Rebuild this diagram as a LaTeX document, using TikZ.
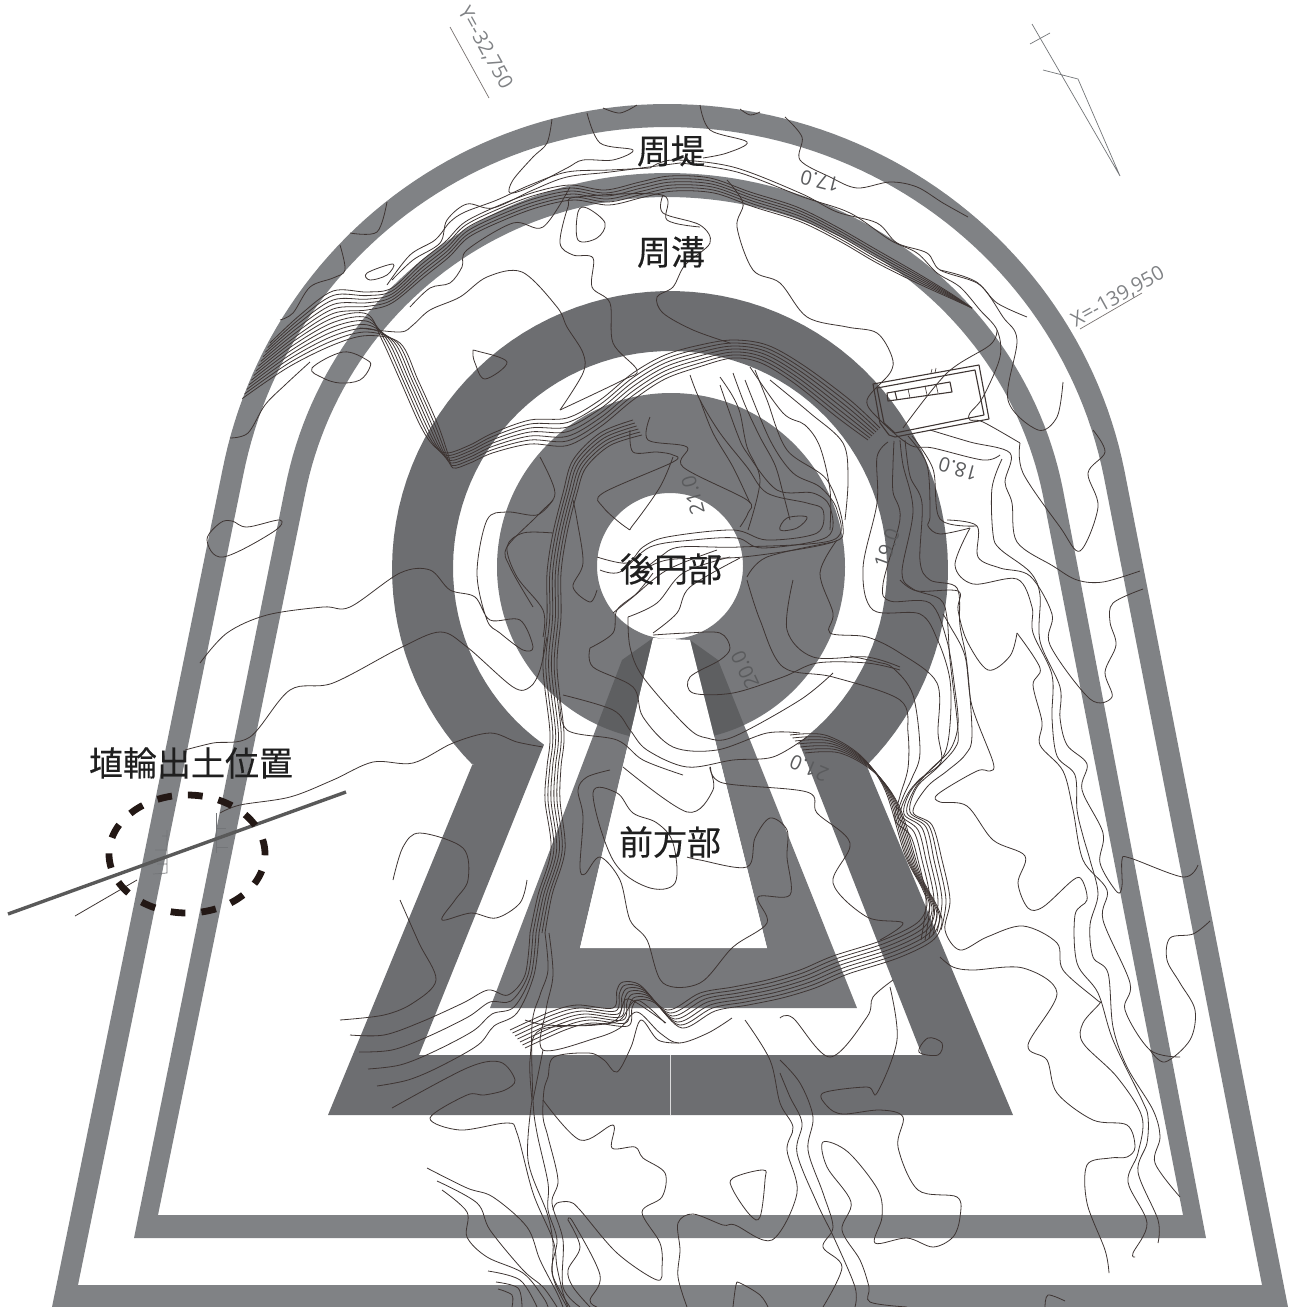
\documentclass[tikz,border=0pt]{standalone}
\usepackage{fontspec}
\setmainfont{Open Sans}
\newfontfamily\cjkf[FakeBold=0.25]{Noto Sans CJK JP}
\definecolor{bandc}{HTML}{808285}
\definecolor{keyc}{HTML}{6D6E71}
\definecolor{discc}{HTML}{77787B}
\definecolor{overc}{HTML}{5E5F61}
\definecolor{conc}{HTML}{3E3533}
\definecolor{labc}{HTML}{808285}
\definecolor{numc}{HTML}{5A5B5D}
\newcommand{\ct}[1]{\draw[contour] plot[smooth,tension=0.55] coordinates {#1};}
\newcommand{\ctc}[1]{\draw[contour] plot[smooth cycle,tension=0.6] coordinates {#1};}
\newcommand{\cfam}[4]{\foreach \i in {0,...,#1}{\begin{scope}[shift={(\i*#2,\i*#3)}]\ct{#4}\end{scope}}}
\tikzset{
 contour/.style={conc,line width=0.4pt,line join=round},
 cjklabel/.style={font=\cjkf\fontsize{17pt}{17pt}\selectfont,text=black!88,inner sep=0pt},
 gridlabel/.style={font=\fontsize{10pt}{10pt}\selectfont,text=labc,inner sep=0pt},
 numlabel/.style={font=\fontsize{10pt}{10pt}\selectfont,text=numc,inner sep=0pt},
 thinmark/.style={draw=labc!90!black,line width=0.35pt},
 structure/.style={draw=conc,line width=0.55pt,line join=round}
}
\begin{document}
\begin{tikzpicture}[x=0.5pt,y=-0.5pt]
\useasboundingbox (0,0) rectangle (1290,1307);
% outer band
\fill[bandc,even odd rule]
 (52,1307) -- plot[domain=169:90,samples=50] ({667+453*cos(\x)},{557-453*sin(\x)})
 -- plot[domain=90:11,samples=50] ({667+466*cos(\x)},{557-453*sin(\x)}) -- (1288,1307) -- cycle
 (78,1285) -- plot[domain=169:90,samples=50] ({667+432*cos(\x)},{559-432*sin(\x)})
 -- plot[domain=90:11,samples=50] ({667+445*cos(\x)},{559-432*sin(\x)}) -- (1262,1285) -- cycle;
% second band
\fill[bandc,even odd rule]
 (134,1238) -- plot[domain=169:90,samples=50] ({667+389*cos(\x)},{562-389*sin(\x)})
 -- plot[domain=90:11,samples=50] ({667+403*cos(\x)},{562-389*sin(\x)}) -- (1206,1238) -- cycle
 (158,1215) -- plot[domain=169:90,samples=50] ({667+369*cos(\x)},{566-369*sin(\x)})
 -- plot[domain=90:11,samples=50] ({667+383*cos(\x)},{566-369*sin(\x)}) -- (1183,1215) -- cycle;
% keyhole ring
\fill[keyc,even odd rule]
 (473,763) -- plot[domain=225:-45,samples=90] ({670+278*cos(\x)},{569-278*sin(\x)}) -- (1013,1115) -- (328,1115) -- cycle
 (543,747) -- plot[domain=234.5:-53.5,samples=90] ({670+217*cos(\x)},{568-217*sin(\x)}) -- (922,1055) -- (419,1055) -- cycle;
\draw[white!75!keyc,line width=0.4pt] (670,1055) -- (670,1115);
% inner disc and trapezoid
\fill[discc,even odd rule] (671,567) circle[radius=87pt] (670,566) circle[radius=36.5pt];
\fill[discc] (653,638) -- (622,660) -- (490,1008) -- (857,1008) -- (718,660) -- (690,640) -- (767,948) -- (580,948) -- cycle;
\begin{scope}
 \clip (671,567) circle[radius=87pt];
 \fill[overc] (653,638) -- (622,660) -- (490,1008) -- (857,1008) -- (718,660) -- (690,640) -- (767,948) -- (580,948) -- cycle;
\end{scope}
\fill[white] (653,638) -- (690,640) -- (767,948) -- (580,948) -- cycle;

% ---------- contours: top arch
\ct{(552,119)(547,143)(533,157)(513,180)(510,193)(530,187)(567,168)(583,160)(613,160)(633,150)(600,143)(587,113)}
\ct{(603,108)(620,113)(637,105)}
\ct{(740,109)(750,115)(760,112)}
\ct{(785,117)(802,137)(800,160)(830,177)(857,188)(890,182)(917,187)(943,203)(968,217)}
\ct{(700,105)(710,130)(747,142)(727,153)(703,158)}
\ct{(387,202)(377,232)(350,233)}
\ct{(340,245)(345,270)(333,278)(310,287)(293,313)(280,320)}
\ctc{(367,273)(393,264)(387,275)(370,280)}
\ctc{(312,368)(343,352)(367,360)(370,367)(360,380)(340,383)(323,378)}
\ct{(700,227)(667,220)(662,195)(577,197)(568,207)(560,243)(573,255)(593,258)(592,287)(610,303)(613,343)(637,370)(623,380)(560,410)}
\ctc{(578,212)(587,208)(605,223)(597,238)(578,240)}
\ct{(570,187)(543,227)(513,223)(467,250)(462,267)(450,283)(430,288)(410,307)}
\ct{(360,328)(400,332)(413,325)(430,310)(460,297)(487,277)(522,272)(557,307)(567,327)(583,353)(583,373)(560,410)}
\ctc{(473,352)(477,351)(507,362)(485,379)(475,363)}
\ct{(650,168)(673,160)(733,167)(800,193)(837,212)(877,223)(897,243)(927,253)(940,270)(977,283)(997,303)(1027,317)}
\ct{(680,163)(737,172)(803,197)(850,213)(890,240)(917,253)(937,273)(960,287)(980,310)(997,330)(1000,357)(983,397)(970,413)(970,420)(983,422)(1020,443)}
\ct{(387,285)(410,255)(435,240)(450,222)(465,212)(497,200)(530,185)(567,172)(610,170)(650,168)}
\ct{(392,280)(413,260)(440,243)(447,220)(467,204)(493,208)(533,190)(567,177)(610,172)(680,163)}
\ct{(230,438)(248,433)(265,405)(285,385)(310,362)}
% left fan, upper group runs on along the second band
\foreach \i in {0,...,5}{
 \ct{(270-\i*2.3,343+\i*4.6)(300-\i*1,315+\i*4.4)(333,291+\i*4.5)(367,292+\i*3.6)(392,288+\i*3)(420+\i*0.8,262+\i*3)(445+\i*0.8,242+\i*3)(465+\i*0.8,222+\i*3)(500+\i*0.8,205+\i*3)(535+\i*0.8,192+\i*3)(570+\i*0.8,185+\i*3)(605+\i*0.8,190+\i*3)(640+\i*0.8,182+\i*3)(670+\i*0.8,176+\i*3)(710+\i*0.8,178+\i*3)(750+\i*0.8,192+\i*3)(797+\i*0.8,207+\i*3)(837+\i*0.8,227+\i*3)(877,250+\i*2.6)(917,273+\i*2)(950,293+\i*1)(972,308)}
}
% left fan, lower group forms the V and the ring arc
\foreach \j in {0,...,6}{
 \ct{(256-\j*2.3,371+\j*4.6)(294-\j*1,341+\j*4.4)(333,318+\j*4.5)(367,314+\j*3.6)(382+\j*3,340+\j*0.5)(400+\j*3,380)(420+\j*3,425)(433+\j*2.5,445+\j*1.5)(447+\j*1,453+\j*2.5)(470,445+\j*3)(493,433+\j*3.3)(530,420+\j*4)(567,418+\j*4.6)(600,400+\j*4.5)(633,373+\j*4.5)(665,355+\j*4)(700,345+\j*3.6)(733,340+\j*3)(767-\j,345+\j*3)(803-\j*1.5,365+\j*3)(850-\j*2,400+\j*3)(880-\j*2,428+\j*2)}
}
\ct{(727,180)(743,203)(737,227)(753,270)(780,283)(807,317)(847,327)(877,333)(892,357)(890,373)(867,400)(880,420)(910,445)(933,448)(983,460)(1000,455)}
\ct{(663,195)(663,213)(700,225)(710,243)(685,265)(673,287)(657,297)(663,313)(693,330)(730,343)}
% rectangle structure
\draw[structure] (873,384) -- (979,365) -- (989,419) -- (895,437) -- (889,435) -- (880,423) -- cycle;
\draw[structure] (877,388) -- (975,370) -- (984,415) -- (895,433) -- (884,423) -- cycle;
\draw[structure] (887,393) -- (950,382) -- (952,392) -- (888,401) -- cycle;
\draw[structure] (895,392) -- (897,400);
\draw[conc,line width=0.3pt] (908,389) -- (910,398) (925,386) -- (927,395) (936,384) -- (938,393) (931,373) -- (932,369) (935,373) -- (936,368);
\ct{(997,330)(990,345)(947,373)(903,428)}
% right side of arch
\ct{(1063,382)(1057,417)(1038,430)(1008,400)(1017,340)(1003,317)(978,283)(940,270)}
\ct{(1093,430)(1105,452)(1088,473)(1098,507)(1080,551)(1060,527)(1023,473)(1020,443)}
\ct{(1143,589)(1113,603)(1110,622)(1116,645)(1105,672)(1112,697)(1090,699)(1050,645)(1052,614)(1030,576)(1000,568)(978,557)(977,526)(947,520)}
\ct{(1140,571)(1103,582)(1077,580)(1053,566)(1017,542)(1012,503)(1005,482)(1010,453)(970,442)(930,430)}
\ct{(1002,459)(992,488)(993,534)(1000,549)(1030,572)(1040,595)(1040,641)(1060,687)(1060,718)(1067,745)(1087,764)(1082,790)(1103,833)(1100,863)(1117,892)(1122,886)(1122,860)(1130,858)(1183,877)(1198,865)}
\ct{(970,528)(955,565)(973,584)(1017,579)(1032,607)(1033,633)(1052,675)(1052,718)(1057,756)(1075,775)(1077,810)(1083,836)(1090,860)(1098,894)(1090,925)(1093,957)(1108,973)(1113,1027)(1127,1067)(1153,1110)(1160,1137)(1155,1163)(1180,1197)}
\ct{(1017,633)(1010,656)(988,670)(967,641)(958,610)(958,591)(917,591)(900,580)}
\ct{(1017,633)(1040,668)(1033,685)(1042,722)(1040,745)(1063,771)(1073,810)(1083,860)(1107,890)(1103,920)(1130,983)(1125,1010)(1150,1050)(1180,1057)}
\ct{(943,614)(950,626)(965,656)(972,706)(993,762)(990,771)(977,771)(938,794)(940,802)(967,806)(993,840)(1025,856)(1018,883)(1028,908)(1043,907)(1073,880)(1082,880)(1087,900)(1075,915)(1077,963)(1098,993)(1113,1040)(1142,1100)(1148,1117)(1147,1143)(1138,1172)(1158,1220)(1158,1243)}
% ring right dark lines running into the pinch
\ct{(905,440)(910,476)(922,503)(920,561)(930,580)(957,588)(960,626)(967,664)(972,735)(965,755)(947,771)(927,787)(913,812)(932,825)(942,860)(950,900)(945,930)(960,950)(987,937)(1023,926)(1057,943)(1063,970)(1097,1000)(1100,1003)(1083,1023)(1083,1043)(1117,1077)(1142,1117)(1138,1153)(1128,1182)(1147,1223)(1133,1253)(1135,1257)}
\ct{(900,440)(903,465)(913,511)(902,572)(913,589)(940,599)(947,618)(950,660)(958,730)(955,748)(937,768)(917,787)(910,812)(929,826)(938,860)(946,900)(941,930)}
\ct{(894,441)(893,465)(893,492)(900,519)(883,584)(890,601)(930,603)(947,641)(955,690)(958,725)(950,750)(930,770)(914,790)(907,813)(926,827)(934,860)(942,900)(937,932)}
\ct{(888,442)(877,457)(877,503)(863,568)(873,610)(920,614)(938,641)(950,680)(950,725)(944,755)(925,775)(910,792)(904,814)(922,828)(930,860)(938,900)(933,935)}
\ct{(908,436)(927,465)(930,515)(928,526)(940,534)(970,528)}
\ct{(912,436)(933,469)(940,519)(977,526)}
% ---------- disc
\ctc{(807,517)(787,518)(780,530)(797,528)}
\ct{(630,430)(633,452)(657,452)(673,455)(673,462)(603,493)(603,507)(627,528)(633,525)(660,487)(673,457)}
\ct{(650,417)(648,440)(687,447)(683,467)(747,500)(748,513)(740,527)}
\ct{(700,400)(713,433)(733,467)(750,503)}
\ct{(597,557)(627,563)(643,547)(667,537)(733,530)(767,540)(817,533)(823,510)(807,503)(767,493)(747,467)(720,433)(700,400)(690,375)}
\ct{(600,570)(620,572)(650,547)(693,540)(737,538)(763,548)(827,537)(830,507)(813,493)(777,490)(747,453)(737,433)(720,385)}
\ct{(640,573)(660,557)(680,547)(740,547)(833,540)(837,510)(820,487)(793,473)(770,440)(745,380)}
\ct{(633,577)(667,560)(743,557)(830,543)(843,527)(827,480)(787,450)(767,400)(755,370)}
\ct{(653,633)(677,613)(690,587)(740,558)}
\ct{(628,617)(657,603)(683,573)(730,557)}
\ct{(613,613)(633,597)(667,570)(717,550)}
\ct{(590,648)(613,633)(617,610)(637,593)(653,573)}
\ct{(653,635)(687,633)(720,633)(730,648)(720,660)(690,677)(693,693)(733,693)(783,677)(817,663)(867,663)(900,670)}
\ct{(628,617)(630,647)(643,677)(687,727)(707,738)(733,737)(800,700)(833,673)}
\ct{(590,648)(593,667)(633,687)(643,717)(673,747)(717,750)(767,733)(800,733)}
\ct{(563,695)(613,710)(630,730)(647,750)(687,767)(733,760)(773,757)(807,737)}
\ct{(560,697)(567,730)(617,740)(643,760)(683,775)}
\ct{(720,377)(732,395)(740,413)(747,447)(760,480)(748,530)}
\ct{(733,373)(745,405)(760,437)(775,465)(783,493)(790,520)}
\ct{(750,367)(783,413)(805,425)(820,447)(830,490)(830,530)}
\ct{(770,380)(810,413)(843,443)(848,480)(845,520)}
\ct{(747,580)(760,620)(783,667)(833,677)(900,700)(908,733)(908,768)(900,796)(895,820)(910,835)(918,860)(926,900)(921,940)}
\ct{(793,580)(787,630)(813,657)(867,657)(900,667)}
\ct{(837,540)(820,573)(833,613)(830,633)(867,637)(900,653)(937,683)(938,733)(941,762)(920,779)(907,795)(901,815)(918,830)(926,860)(934,900)(929,938)}
\ct{(833,542)(767,557)(747,577)}
\ct{(850,656)(877,662)(893,668)(913,695)(920,752)(912,778)(903,797)(898,817)(914,832)(922,860)(930,900)(925,940)}
% disc-left lines
\ct{(553,533)(523,533)(507,547)(517,577)(543,610)(543,637)}
\ct{(540,457)(555,493)(540,513)(507,547)(510,567)(533,607)}
\ct{(573,500)(577,520)(583,563)(573,587)(590,602)(597,590)}
% long left contours
\ct{(200,663)(227,633)(267,615)(323,607)(350,607)(400,573)(430,570)(450,590)(475,597)(490,620)(520,620)(533,647)(523,650)(500,633)(487,620)(477,573)(487,520)(507,512)(537,515)(553,500)}
\ct{(185,750)(213,743)(250,737)(290,690)(333,683)(400,648)(440,632)(467,647)(513,687)(530,687)(540,670)(547,637)}
\ct{(220,813)(240,805)(290,797)(333,780)(373,762)(413,763)(453,743)(490,733)(517,742)(543,747)}
\ctc{(207,540)(220,523)(232,521)(247,527)(280,520)(273,532)(223,557)}
% left bundle descending
\foreach \i in {0,...,5}{
 \ct{(633+\i*1.8,420+\i*3)(600+\i*2,433+\i*2.5)(573+\i*2.6,460+\i*1.5)(563+\i*2.8,493)(553+\i*2.8,533)(547+\i*2.8,573)(547+\i*2.8,617)(543+\i*2.8,667)(550+\i*2.8,733)(547+\i*2.8,767)(545+\i*3,800)(551+\i*2.8,850)(538+\i*2.8,895)(530+\i*3,933)}
}
\foreach \i in {0,...,3}{
 \ct{(530+\i*3,933)(525+\i*3,975)(508+\i*3,995+\i*6)(488+\i*2,990+\i*12)(463+\i*5,1003+\i*14)(421+\i*6,1022+\i*15)(384+\i*8,1035+\i*15)(350+\i*9,1035+\i*17)}
}
\ct{(400,900)(419,943)(436,980)(413,1003)(384,1015)(340,1020)}
\ct{(393,880)(403,847)(420,833)(463,848)(468,880)(455,900)(442,920)(471,913)(496,918)(520,903)(527,880)}
\ct{(392,1108)(467,1068)(500,1062)(515,1080)(505,1090)(484,1095)(467,1095)(430,1118)(460,1130)(507,1123)(517,1133)(533,1193)(553,1240)(557,1267)(563,1293)(568,1307)}
\ct{(545,933)(548,970)(540,995)(532,1025)(533,1100)(537,1133)(548,1183)(548,1210)(557,1240)(552,1273)(570,1307)}
\ct{(549,933)(553,975)(546,1010)(543,1050)(596,1038)(620,1028)(637,1012)(660,1033)(679,1043)(708,1033)(732,1018)}
\ct{(533,1100)(543,1050)}
\ct{(679,1043)(658,1040)(641,1020)(631,1047)(617,1072)(604,1060)(589,1053)(554,1057)(548,1077)(544,1090)(543,1117)(548,1137)(558,1180)(552,1203)(563,1240)(563,1287)(580,1307)}
\ct{(532,1100)(528,1160)(547,1213)(553,1243)(553,1277)(567,1307)}
\ct{(532,1100)(530,1060)(540,1030)(596,1025)(620,1020)(637,1000)(665,1023)}
\ct{(525,1020)(546,1025)(587,1025)(616,1020)(625,1000)(637,1003)(666,1023)}
% bottom bundle
\cfam{6}{2.5}{3}{(510,1030)(550,1012)(577,1005)(613,1008)(617,990)(623,982)(640,985)(667,1010)(700,993)(733,987)(767,980)(800,970)(833,956)(883,940)(917,923)(927,905)(922,888)(905,855)(885,790)(860,755)(825,735)(790,735)}
% front part
\ct{(610,770)(587,777)(578,790)(583,817)(580,867)(585,874)(600,857)(620,880)(630,920)(647,940)(663,983)(700,983)(733,947)(767,923)(758,897)(790,895)(787,857)(787,830)(770,818)(755,838)(747,867)(700,860)(687,857)}
\ctc{(593,793)(617,793)(633,813)(657,823)(673,843)(675,883)(647,887)(613,860)}
\ct{(623,767)(687,812)(713,790)(710,767)(723,783)(807,792)(817,813)(850,843)(833,883)(867,917)(903,923)(880,940)}
% lower right
\ct{(780,1018)(793,1018)(830,1057)(867,1017)(873,997)(893,980)}
\ctc{(919,1052)(928,1038)(942,1043)(938,1055)}
\ct{(940,957)(953,967)(973,970)(1023,968)(1057,993)(1028,1045)(1047,1060)(1057,1093)(1093,1120)(1127,1125)(1135,1147)(1127,1157)(1110,1158)(1087,1165)(1087,1203)(1105,1250)(1109,1273)}
\ct{(890,987)(897,1040)(877,1093)(867,1087)(823,1093)(828,1107)(843,1114)(880,1110)(903,1117)(898,1147)(918,1190)(957,1197)(960,1217)(953,1237)(933,1247)(907,1238)(875,1243)(882,1217)(878,1190)(848,1152)(823,1142)(827,1167)(851,1202)(842,1230)(860,1260)(869,1287)(870,1302)(907,1307)}
\ct{(780,1060)(800,1083)(813,1117)(808,1150)(823,1193)(833,1227)(823,1247)(842,1267)(823,1307)}
\ct{(780,1073)(790,1097)(802,1123)(797,1153)(817,1203)(835,1240)(855,1287)(855,1307)}
\ct{(745,1020)(770,1060)(780,1103)(793,1127)(787,1150)(797,1193)(772,1240)(735,1225)(723,1225)(693,1214)(678,1223)(680,1250)(678,1277)(687,1307)}
\ct{(1210,921)(1193,934)(1170,938)(1167,960)(1180,983)(1195,1010)(1190,1040)(1165,1062)(1150,1050)}
% bottom
\ct{(543,1100)(580,1140)(613,1125)(612,1148)(635,1147)(643,1158)(665,1173)(662,1197)(642,1212)(660,1243)(662,1267)(657,1280)(617,1253)(580,1210)(570,1202)(557,1203)(553,1210)}
\ct{(427,1168)(467,1188)(493,1197)(527,1227)(540,1260)(557,1293)(563,1307)}
\ct{(437,1181)(477,1203)(490,1230)(523,1270)(543,1287)(557,1307)}
\ct{(442,1190)(467,1212)(467,1237)(487,1257)(523,1273)(543,1297)(548,1307)}
\ct{(488,1271)(520,1280)(537,1307)}
\ct{(496,1282)(518,1288)(522,1307)}
\ct{(498,1289)(512,1295)(512,1307)}
\ct{(568,1220)(573,1222)(600,1275)(590,1300)(597,1307)}
\ct{(568,1220)(580,1247)(568,1270)(573,1287)(590,1307)}
\ctc{(733,1178)(763,1170)(765,1180)(760,1217)(750,1215)(733,1190)}
\ct{(733,1307)(736,1285)(740,1283)(760,1295)(768,1307)}
\ct{(1045,1307)(1048,1295)(1065,1301)}
% north mark
\draw[thinmark] (1032,24) -- (1120,176) -- (1078,79) -- (1043,70);
\draw[thinmark] (1030,44) -- (1050,33);
% grid marks
\coordinate (yA) at (450,27); \coordinate (yB) at (489,98);
\draw[conc!70,line width=0.35pt] (yA) -- (yB);
\coordinate (xA) at (1080,329); \coordinate (xB) at (1142,293);
\draw[conc!70,line width=0.35pt] (xA) -- (xB);
% left marks
\draw[thinmark] (167,830) -- (167,873) -- (153,874) (162,836) -- (167,836) (155,850) -- (167,850) (157,864) -- (167,864);
\draw[thinmark] (216,813) -- (216,853) (216,828) -- (226,828) (216,847) -- (228,847);
\draw[contour] (75,916) -- (137,880);
\draw[color=black!65!white,line width=1.7pt] (8,914) -- (346,792);
\draw[color={rgb,255:red,35;green,24;blue,21},line width=3.4pt,dash pattern=on 7.4pt off 8pt] (187,854) ellipse[x radius=39pt,y radius=29.5pt];
% labels
\node[cjklabel] (shutei) at (671,151) {周堤};
\node[cjklabel] (shuko) at (671,252) {周溝};
\node[cjklabel] (koen) at (671,569) {後円部};
\node[cjklabel] (zenpo) at (670,842) {前方部};
\node[cjklabel] (haniwa) at (191,763) {埴輪出土位置};
\node[gridlabel,rotate=-61] (ylab) at (485,48) {Y=-32,750};
\node[gridlabel,rotate=29] (xlab) at (1118,297) {X=-139,950};
\node[numlabel,rotate=166] (n17) at (820,181) {17.0};
\node[numlabel,rotate=165] (n18) at (958,469) {18.0};
\node[numlabel,rotate=70] (n19) at (887,548) {19.0};
\node[numlabel,rotate=105] (n21a) at (693,495) {21.0};
\node[numlabel,rotate=115] (n20) at (745,670) {20.0};
\node[numlabel,rotate=157] (n21b) at (809,768) {21.0};
\end{tikzpicture}
\end{document}
